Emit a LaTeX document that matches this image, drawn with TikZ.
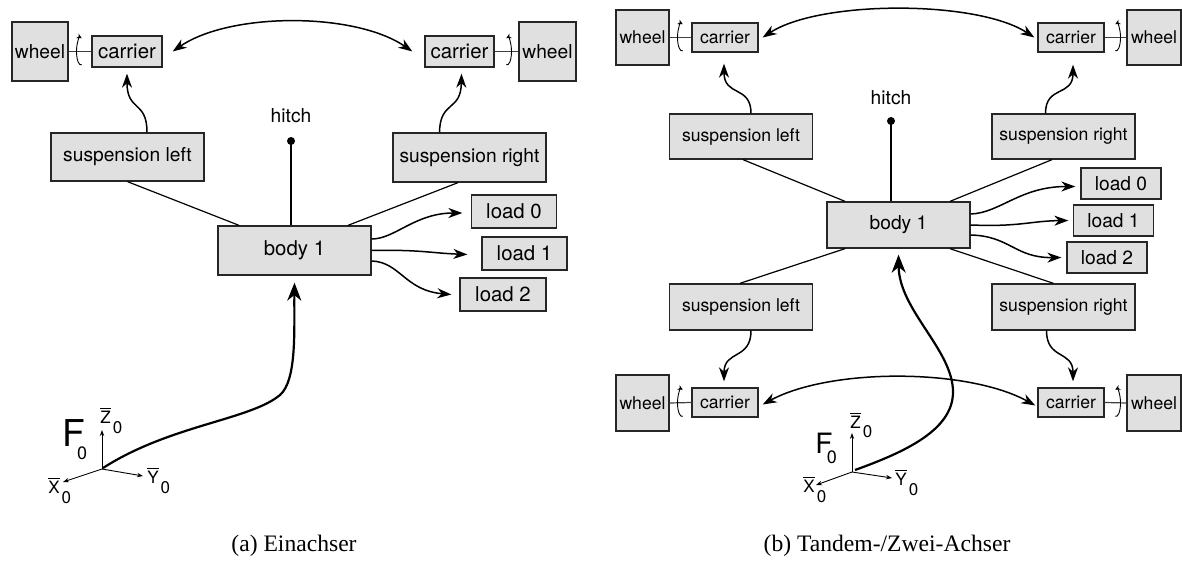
\documentclass[tikz,border=0pt]{standalone}
\usepackage{fontspec}
\setmainfont{TeX Gyre Heros}
\newfontfamily\capfont{Liberation Serif}
\usetikzlibrary{arrows.meta,calc}
\definecolor{boxfill}{RGB}{224,224,224}
% barred axis letter with subscript 0
\newcommand\axl[1]{\setbox0=\hbox{#1}\rlap{\raisebox{\dimexpr\ht0+1.1pt\relax}{\rule{\wd0}{0.45pt}}}\box0\kern1pt\raisebox{-5pt}{0}}
\tikzset{
  blk/.style={draw=black!85, fill=boxfill, line width=0.65pt, inner sep=0pt},
  dim/.style 2 args={minimum width=#1*0.5pt, minimum height=#2*0.5pt},
  fa/.style={font=\fontsize{9.6}{11}\selectfont},
  fb/.style={font=\fontsize{10.2}{12}\selectfont},
  fc/.style={font=\fontsize{8.8}{10}\selectfont},
  fd/.style={font=\fontsize{9.6}{11}\selectfont},
  arr/.style={line width=0.75pt, -{Stealth[length=7pt,width=5pt,inset=2.2pt]}},
  darr/.style={line width=0.75pt, {Stealth[length=7pt,width=5pt,inset=2.2pt]}-{Stealth[length=7pt,width=5pt,inset=2.2pt]}},
  bigarr/.style={line width=1.1pt, -{Stealth[length=9pt,width=7pt,inset=2.8pt]}},
  link/.style={line width=0.6pt},
  axle/.style={line width=0.6pt, black!75},
  spin/.style={line width=0.45pt, {Stealth[length=2.5pt,width=2.5pt]}-},
  axis/.style={line width=0.45pt, -{Stealth[length=3pt,width=2.2pt]}},
  axlbl/.style={font=\fontsize{8.5}{9}\selectfont, inner sep=0pt, anchor=base west},
  captext/.style={font=\capfont\fontsize{11.8}{13}\selectfont, inner sep=0pt}
}
\begin{document}
\begin{tikzpicture}[x=0.5pt, y=-0.5pt]
\useasboundingbox (0,0) rectangle (1182,566);

% ---------------- (a) single axle ----------------
\node[blk, dim={56}{59}, fa] (wL) at (40,51.5) {wheel};
\node[blk, dim={70}{31}, fb] (cL) at (127,51.5) {carrier};
\node[blk, dim={69}{31}, fb] (cR) at (459.5,51.5) {carrier};
\node[blk, dim={57}{59}, fa] (wR) at (547.5,51.5) {wheel};
\node[blk, dim={153}{48}, fa] (sL) at (127.5,157) {suspension left};
\node[blk, dim={153}{49}, fa] (sR) at (469.5,157.5) {suspension right};
\node[blk, dim={153}{49}, fb] (b) at (294.5,250.5) {body 1};
\node[blk, dim={85}{33}, fb] (l0) at (514,211.5) {load 0};
\node[blk, dim={85}{33}, fb] (l1) at (524.5,253.5) {load 1};
\node[blk, dim={86}{33}, fb] (l2) at (503,294.5) {load 2};
\node[fa, inner sep=0pt] (hitchA) at (291,116) {hitch};
\coordinate (hA) at (291,141);
\fill (hA) circle[radius=2pt];

% axles with rotation marks
\draw[axle] (wL.east) -- (cL.west);
\draw[spin] (81,51.5) ++(80:2.25pt and 6.75pt) arc[start angle=80, end angle=280, x radius=2.25pt, y radius=6.75pt];
\draw[axle] (cR.east) -- (wR.west);
\draw[spin] (507,51.5) ++(100:2.25pt and 6.75pt) arc[start angle=100, end angle=-100, x radius=2.25pt, y radius=6.75pt];

% carrier coupling
\draw[darr] ([xshift=5pt]cL.east) .. controls (230,12) and (355,12) .. ([xshift=-6pt]cR.west);

% suspension to carrier
\draw[arr] ([xshift=9.75pt]sL.north) .. controls (147,100) and (127,112) .. ([yshift=-3pt]cL.south);
\draw[arr] ([xshift=-15pt]sR.north) .. controls (440,100) and (461,112) .. ([xshift=1pt,yshift=-3pt]cR.south);

% body links
\draw[link] (sL.south) -- ([xshift=-27.75pt]b.north);
\draw[link] ([xshift=-5.75pt]sR.south) -- ([xshift=26.75pt]b.north);
\draw[link] (hA) -- (hA |- b.north);

% loads
\draw[arr] ([yshift=5.75pt]b.east) .. controls (395,239) and (415,213) .. ([xshift=-4.25pt,yshift=-0.75pt]l0.west);
\draw[arr] (b.east) .. controls (420,249.5) and (430,253) .. ([xshift=-7pt,yshift=-0.5pt]l1.west);
\draw[arr] ([yshift=-5.25pt]b.east) .. controls (400,262) and (405,290.5) .. ([xshift=-4pt]l2.west);

% reference frame
\coordinate (OA) at (102,469);
\coordinate (zA) at (102,430);
\coordinate (yA) at (143,476);
\coordinate (xA) at (63,482);
\draw[axis] (OA) -- (zA);
\draw[axis] (OA) -- (yA);
\draw[axis] (OA) -- (xA);
\node[axlbl] (lzA) at (100,423) {\axl{Z}};
\node[axlbl] (lyA) at (147,483) {\axl{Y}};
\node[axlbl] (lxA) at (48,493) {\axl{X}};
\node[inner sep=0pt, anchor=base west, font=\fontsize{18.5}{20}\selectfont] (fA) at (62,446)
  {F\kern-4pt\raisebox{-6.5pt}{\fontsize{9}{10}\selectfont 0}};
\draw[bigarr] ([xshift=0.5pt,yshift=0.5pt]OA) .. controls (170,425) and (250,420) .. (280,395)
  .. controls (297,380) and (294,330) .. ([yshift=-3.5pt]b.south);

\node[captext] (capA) at (294,546) {(a) Einachser};

% ---------------- (b) tandem axle ----------------
\node[blk, dim={53}{55}, fc] (w1) at (642.5,37.5) {wheel};
\node[blk, dim={66}{29}, fc] (c1) at (725,37.5) {carrier};
\node[blk, dim={66}{29}, fc] (c2) at (1071,37.5) {carrier};
\node[blk, dim={54}{55}, fc] (w2) at (1154,37.5) {wheel};
\node[blk, dim={143}{45}, fc] (s1) at (741,136.5) {suspension left};
\node[blk, dim={143}{45}, fc] (s2) at (1063.5,136.5) {suspension right};
\node[blk, dim={143}{46}, fd] (b2) at (898.5,225) {body 1};
\node[blk, dim={80}{31}, fd] (m0) at (1121,183.5) {load 0};
\node[blk, dim={80}{31}, fd] (m1) at (1113.5,220.5) {load 1};
\node[blk, dim={80}{31}, fd] (m2) at (1107,257.5) {load 2};
\node[blk, dim={143}{46}, fc] (s3) at (741,307) {suspension left};
\node[blk, dim={143}{46}, fc] (s4) at (1063.5,307) {suspension right};
\node[blk, dim={53}{56}, fc] (w3) at (642.5,403) {wheel};
\node[blk, dim={66}{29}, fc] (c3) at (725,402.5) {carrier};
\node[blk, dim={66}{29}, fc] (c4) at (1071,402.5) {carrier};
\node[blk, dim={54}{56}, fc] (w4) at (1154,403) {wheel};
\node[fd, inner sep=0pt] (hitchB) at (891,98) {hitch};
\coordinate (hB) at (891,121);
\fill (hB) circle[radius=2pt];

% axles with rotation marks
\draw[axle] (w1.east) -- (c1.west);
\draw[spin] (682,37.5) ++(80:2.25pt and 6.75pt) arc[start angle=80, end angle=280, x radius=2.25pt, y radius=6.75pt];
\draw[axle] (c2.east) -- (w2.west);
\draw[spin] (1116,37.5) ++(100:2.25pt and 6.75pt) arc[start angle=100, end angle=-100, x radius=2.25pt, y radius=6.75pt];
\draw[axle] (w3.east) -- (c3.west);
\draw[spin] (682,403) ++(80:2.25pt and 6.75pt) arc[start angle=80, end angle=280, x radius=2.25pt, y radius=6.75pt];
\draw[axle] (c4.east) -- (w4.west);
\draw[spin] (1116,403) ++(100:2.25pt and 6.75pt) arc[start angle=100, end angle=-100, x radius=2.25pt, y radius=6.75pt];

% carrier couplings
\draw[darr] ([xshift=2pt]c1.east) .. controls (820,0) and (977,0) .. ([xshift=-1.5pt]c2.west);
\draw[darr] ([xshift=2pt,yshift=-1pt]c3.east) .. controls (830,368) and (967,368) .. ([xshift=-1pt,yshift=-1.5pt]c4.west);

% suspensions to carriers
\draw[arr] ([xshift=5pt]s1.north) .. controls (751,85) and (724,97) .. ([xshift=-0.5pt,yshift=-5.5pt]c1.south);
\draw[arr] ([xshift=-9pt]s2.north) .. controls (1045.5,85) and (1073,97) .. ([xshift=1pt,yshift=-6pt]c2.south);
\draw[arr] ([xshift=5pt]s3.south) .. controls (751,360) and (724,350) .. ([xshift=-0.5pt,yshift=3pt]c3.north);
\draw[arr] ([xshift=-8.5pt]s4.south) .. controls (1046.5,360) and (1073,350) .. ([xshift=1pt,yshift=3pt]c4.north);

% body links
\draw[link] ([xshift=1pt]s1.south) -- ([xshift=-26.75pt]b2.north);
\draw[link] ([xshift=-5.75pt]s2.south) -- ([xshift=25.75pt]b2.north);
\draw[link] ([xshift=-26.75pt]b2.south) -- ([xshift=-0.5pt]s3.north);
\draw[link] ([xshift=25.75pt]b2.south) -- ([xshift=-5pt]s4.north);
\draw[link] (hB) -- (hB |- b2.north);

% loads
\draw[arr] ([yshift=5.5pt]b2.east) .. controls (1000,213) and (1020,186.5) .. ([xshift=-2.5pt,yshift=-1.5pt]m0.west);
\draw[arr] (b2.east) .. controls (1020,227) and (1030,221) .. ([xshift=-2.25pt]m1.west);
\draw[arr] ([yshift=-5pt]b2.east) .. controls (1010,236) and (1015,258) .. ([xshift=-2.5pt]m2.west);

% reference frame
\coordinate (OB) at (852,472);
\coordinate (zB) at (852,433);
\coordinate (yB) at (892,478);
\coordinate (xB) at (816,485);
\draw[axis] (OB) -- (zB);
\draw[axis] (OB) -- (yB);
\draw[axis] (OB) -- (xB);
\node[axlbl] (lzB) at (850,428) {\axl{Z}};
\node[axlbl] (lyB) at (895,485) {\axl{Y}};
\node[axlbl] (lxB) at (803,492) {\axl{X}};
\node[inner sep=0pt, anchor=base west, font=\fontsize{14}{16}\selectfont] (fB) at (815,453)
  {F\kern-2.8pt\raisebox{-5pt}{\fontsize{9}{10}\selectfont 0}};
\draw[bigarr] ([xshift=1.5pt,yshift=1pt]OB) .. controls (905,452) and (953,430) .. (953,392)
  .. controls (953,350) and (899,310) .. ([yshift=-3pt]b2.south);

\node[captext] (capB) at (887,546) {(b) Tandem-/Zwei-Achser};
\end{tikzpicture}
\end{document}
